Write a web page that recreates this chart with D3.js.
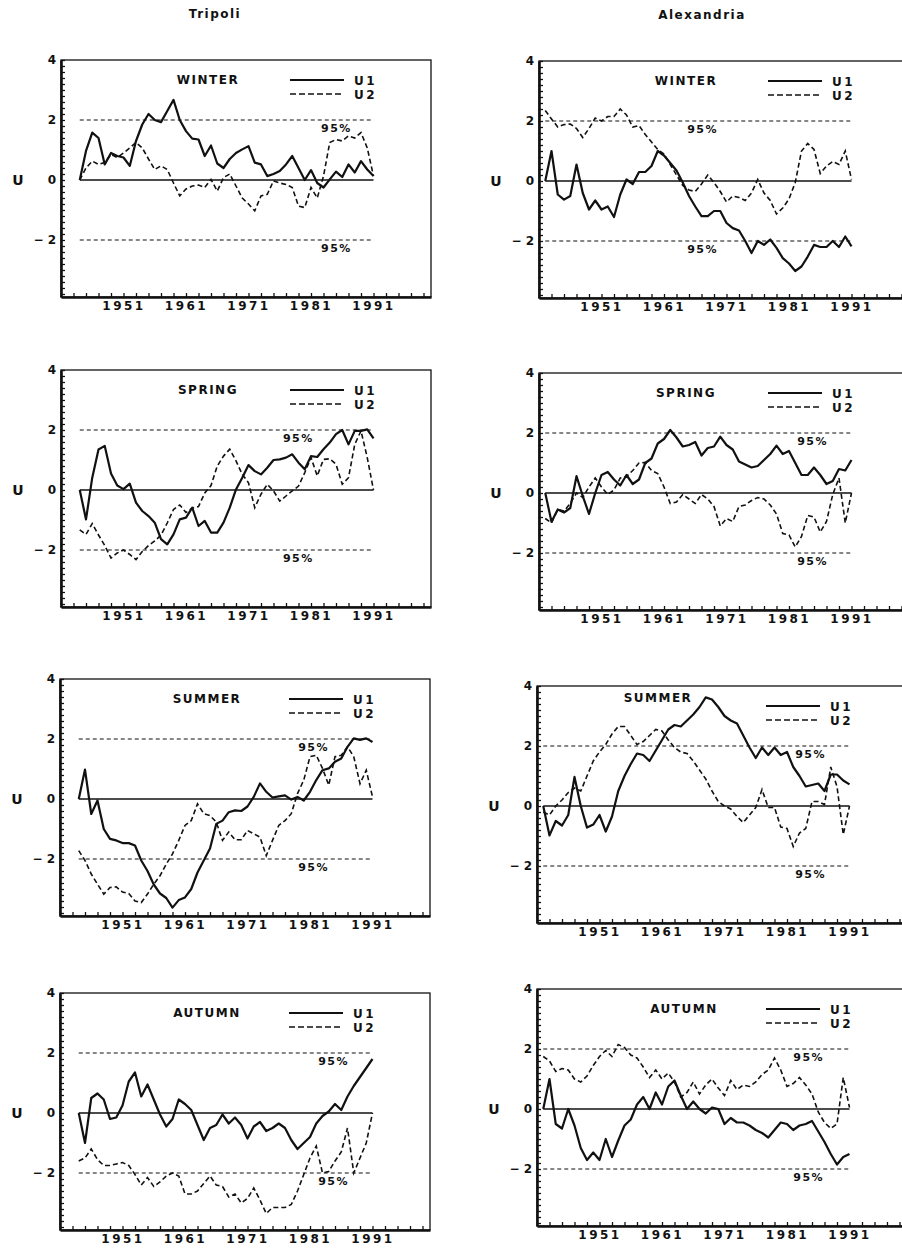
<!DOCTYPE html>
<html>
<head>
<meta charset="utf-8">
<script src="https://d3js.org/d3.v7.min.js"></script>
<style>
  body { margin: 0; background: #fff; }
  svg text { font-family: "DejaVu Sans", sans-serif; fill: #111; }
  .tick text { font-weight: bold; font-size: 12px; }
</style>
</head>
<body>
<svg id="chart" width="902" height="1250"></svg>
<script>
// ---- data ----
const tripoliStart = 1944;
const alexStart = 1942;
const lastYear = 1991;

const yearLabels = [1951, 1961, 1971, 1981, 1991];
const uLabels = [-2, 0, 2, 4];
const limits = [-2, 2];

const triWinterU1 = [0, 0.97, 1.58, 1.4, 0.52, 0.9, 0.8, 0.75, 0.47, 1.3, 1.85, 2.2, 2.0, 1.93, 2.3, 2.67, 2.0, 1.63, 1.38, 1.35, 0.8, 1.15, 0.55, 0.4, 0.7, 0.9, 1.02, 1.13, 0.58, 0.52, 0.13, 0.2, 0.3, 0.52, 0.8, 0.4, 0.0, 0.33, -0.1, -0.25, 0.02, 0.28, 0.1, 0.52, 0.25, 0.63, 0.35, 0.13];
const triWinterU2 = [0, 0.4, 0.63, 0.52, 0.58, 0.85, 0.75, 0.9, 1.07, 1.25, 1.07, 0.7, 0.35, 0.47, 0.35, -0.1, -0.53, -0.3, -0.2, -0.17, -0.25, 0.02, -0.37, 0.08, 0.2, -0.2, -0.6, -0.8, -1.03, -0.53, -0.48, -0.03, -0.1, -0.15, -0.25, -0.87, -0.92, -0.25, -0.6, 0.13, 1.25, 1.35, 1.3, 1.47, 1.4, 1.58, 1.07, 0.13];

const alexWinterU1 = [0, 1.0, -0.45, -0.62, -0.5, 0.55, -0.4, -0.95, -0.65, -0.95, -0.85, -1.2, -0.45, 0.05, -0.1, 0.3, 0.3, 0.5, 1.0, 0.85, 0.6, 0.35, -0.05, -0.5, -0.85, -1.17, -1.17, -1.0, -1.0, -1.4, -1.57, -1.65, -2.0, -2.4, -2.0, -2.13, -1.95, -2.23, -2.57, -2.75, -3.0, -2.85, -2.52, -2.13, -2.2, -2.2, -2.0, -2.2, -1.85, -2.18];
const alexWinterU2 = [2.35, 2.07, 1.8, 1.88, 1.9, 1.75, 1.45, 1.75, 2.1, 2.0, 2.15, 2.15, 2.4, 2.2, 1.8, 1.85, 1.55, 1.3, 1.05, 0.9, 0.55, 0.2, -0.15, -0.3, -0.35, -0.1, 0.2, -0.05, -0.35, -0.7, -0.5, -0.55, -0.65, -0.4, 0.05, -0.4, -0.65, -1.1, -0.9, -0.6, -0.05, 1.0, 1.25, 1.05, 0.25, 0.5, 0.65, 0.55, 1.0, 0.05];

const triSpringU1 = [0, -0.98, 0.41, 1.35, 1.47, 0.55, 0.15, 0.03, 0.21, -0.42, -0.7, -0.87, -1.09, -1.64, -1.81, -1.48, -0.98, -0.92, -0.59, -1.2, -1.03, -1.42, -1.42, -1.09, -0.59, 0.02, 0.41, 0.83, 0.63, 0.52, 0.74, 1.0, 1.02, 1.08, 1.19, 0.91, 0.69, 1.13, 1.1, 1.36, 1.58, 1.86, 2.0, 1.52, 1.97, 1.97, 2.02, 1.72];
const triSpringU2 = [-1.33, -1.48, -1.12, -1.5, -1.85, -2.27, -2.1, -2.0, -2.15, -2.32, -2.05, -1.85, -1.7, -1.5, -1.1, -0.65, -0.5, -0.75, -0.6, -0.55, -0.1, 0.15, 0.8, 1.13, 1.36, 0.97, 0.52, 0.24, -0.59, -0.14, 0.19, -0.03, -0.37, -0.2, -0.03, 0.13, 0.58, 1.08, 0.47, 1.02, 1.04, 0.86, 0.19, 0.41, 1.52, 1.97, 1.08, 0];

const alexSpringU1 = [0, -0.96, -0.55, -0.65, -0.5, 0.56, -0.1, -0.7, 0.0, 0.6, 0.7, 0.45, 0.25, 0.6, 0.3, 0.45, 1.0, 1.15, 1.65, 1.8, 2.1, 1.85, 1.55, 1.6, 1.7, 1.25, 1.5, 1.55, 1.88, 1.6, 1.45, 1.05, 0.95, 0.85, 0.9, 1.1, 1.3, 1.58, 1.3, 1.4, 1.0, 0.6, 0.6, 0.85, 0.6, 0.3, 0.4, 0.8, 0.75, 1.1];
const alexSpringU2 = [-0.85, -1.0, -0.55, -0.6, -0.35, 0.0, -0.15, 0.2, 0.5, 0.2, -0.05, 0.1, 0.5, 0.55, 0.75, 1.0, 1.02, 0.75, 0.65, 0.2, -0.35, -0.3, -0.05, -0.2, -0.35, -0.05, -0.2, -0.45, -1.1, -0.85, -0.95, -0.45, -0.4, -0.25, -0.15, -0.2, -0.4, -0.7, -1.35, -1.4, -1.8, -1.45, -0.75, -0.8, -1.3, -0.95, -0.05, 0.5, -1.0, 0.0];

const triSummerU1 = [0, 0.98, -0.5, -0.05, -1.0, -1.33, -1.38, -1.47, -1.47, -1.55, -2.05, -2.4, -2.85, -3.15, -3.3, -3.62, -3.37, -3.28, -3.0, -2.45, -2.05, -1.65, -0.83, -0.72, -0.44, -0.38, -0.4, -0.25, 0.07, 0.52, 0.24, 0.05, 0.09, 0.12, -0.02, 0.07, -0.05, 0.24, 0.63, 0.96, 1.02, 1.24, 1.35, 1.74, 2.02, 1.97, 2.02, 1.9];
const triSummerU2 = [-1.72, -2.05, -2.5, -2.84, -3.17, -2.95, -2.93, -3.1, -3.15, -3.4, -3.45, -3.17, -2.84, -2.56, -2.17, -1.83, -1.38, -0.88, -0.72, -0.16, -0.49, -0.55, -0.77, -1.38, -1.1, -1.36, -1.36, -1.05, -1.16, -1.27, -1.89, -1.38, -0.88, -0.72, -0.49, 0.18, 0.63, 1.41, 1.46, 1.02, 0.46, 1.41, 1.46, 1.74, 1.41, 0.51, 0.96, 0.07];

const alexSummerU1 = [0, -0.98, -0.5, -0.65, -0.3, 0.97, 0.0, -0.72, -0.62, -0.3, -0.85, -0.35, 0.5, 1.0, 1.4, 1.75, 1.7, 1.5, 1.85, 2.2, 2.55, 2.7, 2.65, 2.85, 3.05, 3.3, 3.62, 3.55, 3.3, 3.0, 2.85, 2.75, 2.35, 1.95, 1.6, 1.95, 1.7, 1.95, 1.7, 1.8, 1.3, 1.0, 0.65, 0.7, 0.75, 0.5, 1.05, 1.05, 0.85, 0.72];
const alexSummerU2 = [-0.2, -0.3, 0.0, 0.2, 0.45, 0.6, 0.5, 1.0, 1.5, 1.8, 2.05, 2.4, 2.65, 2.65, 2.35, 2.05, 2.15, 2.35, 2.55, 2.5, 2.2, 1.95, 1.8, 1.75, 1.5, 1.2, 0.9, 0.5, 0.15, 0.0, -0.1, -0.35, -0.55, -0.3, -0.05, 0.55, -0.05, -0.05, -0.7, -0.75, -1.35, -0.9, -0.75, 0.15, 0.15, 0.05, 1.3, 0.65, -0.95, 0.0];

const triAutumnU1 = [0, -1.0, 0.5, 0.65, 0.45, -0.2, -0.15, 0.25, 1.05, 1.35, 0.55, 0.95, 0.45, -0.05, -0.45, -0.2, 0.45, 0.3, 0.1, -0.4, -0.9, -0.5, -0.4, -0.05, -0.35, -0.15, -0.4, -0.85, -0.45, -0.3, -0.6, -0.5, -0.35, -0.5, -0.9, -1.2, -1.0, -0.8, -0.35, -0.1, 0.05, 0.3, 0.1, 0.55, 0.9, 1.2, 1.5, 1.8];
const triAutumnU2 = [-1.6, -1.5, -1.2, -1.55, -1.75, -1.75, -1.7, -1.65, -1.75, -2.05, -2.4, -2.15, -2.45, -2.3, -2.1, -2.0, -2.1, -2.7, -2.7, -2.6, -2.35, -2.1, -2.4, -2.45, -2.8, -2.7, -3.0, -2.85, -2.5, -2.9, -3.35, -3.15, -3.15, -3.15, -3.05, -2.6, -2.05, -1.5, -1.1, -2.0, -1.95, -1.6, -1.3, -0.5, -2.0, -1.5, -1.0, 0.0];

const alexAutumnU1 = [0, 1.0, -0.5, -0.65, 0.0, -0.55, -1.3, -1.7, -1.45, -1.7, -1.0, -1.6, -1.05, -0.55, -0.35, 0.15, 0.4, 0.0, 0.55, 0.15, 0.75, 0.95, 0.45, 0.0, 0.25, 0.0, -0.15, 0.05, 0.0, -0.5, -0.3, -0.45, -0.45, -0.55, -0.7, -0.8, -0.95, -0.7, -0.45, -0.5, -0.7, -0.55, -0.5, -0.4, -0.75, -1.1, -1.5, -1.85, -1.6, -1.5];
const alexAutumnU2 = [1.75, 1.6, 1.25, 1.35, 1.3, 1.0, 0.9, 1.1, 1.45, 1.75, 1.95, 1.75, 2.15, 2.05, 1.8, 1.7, 1.4, 1.05, 1.3, 1.0, 1.2, 0.9, 0.4, 0.55, 0.9, 0.5, 0.8, 1.0, 0.7, 0.45, 0.95, 0.65, 0.8, 0.75, 0.9, 1.15, 1.3, 1.7, 1.3, 0.75, 0.85, 1.05, 0.8, 0.5, -0.1, -0.45, -0.65, -0.5, 1.05, 0.05];

// ---- layout ----
const W = 370, H = 237;
const panels = [
  {season: "WINTER", u1: triWinterU1, u2: triWinterU2, start: tripoliStart, left: 61, top: 60, pct: 1982.6},
  {season: "WINTER", u1: alexWinterU1, u2: alexWinterU2, start: alexStart, left: 539, top: 61, pct: 1964.7},
  {season: "SPRING", u1: triSpringU1, u2: triSpringU2, start: tripoliStart, left: 61, top: 370, pct: 1976.5},
  {season: "SPRING", u1: alexSpringU1, u2: alexSpringU2, start: alexStart, left: 539, top: 373, pct: 1982.3},
  {season: "SUMMER", u1: triSummerU1, u2: triSummerU2, start: tripoliStart, left: 60, top: 679, pct: 1979.1},
  {season: "SUMMER", u1: alexSummerU1, u2: alexSummerU2, start: alexStart, left: 537, top: 686, pct: 1982.3, sx: 121, sy: 16},
  {season: "AUTUMN", u1: triAutumnU1, u2: triAutumnU2, start: tripoliStart, left: 60, top: 993, pct: 1982.3},
  {season: "AUTUMN", u1: alexAutumnU1, u2: alexAutumnU2, start: alexStart, left: 537, top: 989, pct: 1982}
];

const svg = d3.select("#chart");

svg.append("text").attr("x", 215).attr("y", 18).attr("text-anchor", "middle")
  .attr("font-size", 12).attr("font-weight", "bold").attr("letter-spacing", 1.5).text("Tripoli");
svg.append("text").attr("x", 702).attr("y", 19).attr("text-anchor", "middle")
  .attr("font-size", 12).attr("font-weight", "bold").attr("letter-spacing", 1.5).text("Alexandria");

panels.forEach(p => {
  const x = d3.scaleLinear().domain([1941, 2000.2]).range([p.left, p.left + W]);
  const y = d3.scaleLinear().domain([-3.9, 4]).range([p.top + H, p.top]);
  const g = svg.append("g");

  // thin top/right frame
  g.append("rect").attr("x", p.left).attr("y", p.top).attr("width", W).attr("height", H)
    .attr("fill", "none").attr("stroke", "#111").attr("stroke-width", 1.3);

  // minor ticks, pointing inward
  const yt = g.append("g").attr("transform", `translate(${p.left},0)`)
    .call(d3.axisRight(y).tickValues(d3.range(-19, 21).map(v => v / 5)).tickSize(4).tickSizeOuter(0).tickFormat(""));
  const xt = g.append("g").attr("transform", `translate(0,${p.top + H})`)
    .call(d3.axisTop(x).tickValues(d3.range(1943, 2000, 2)).tickSize(4).tickSizeOuter(0).tickFormat(""));
  [yt, xt].forEach(a => {
    a.select(".domain").attr("stroke", "#111").attr("stroke-width", 2.6);
    a.selectAll(".tick line").attr("stroke", "#111").attr("stroke-width", 1.3);
  });

  // labels
  const yl = g.append("g").attr("transform", `translate(${p.left},0)`)
    .call(d3.axisLeft(y).tickValues(uLabels).tickSize(0).tickPadding(5)
      .tickFormat(d => d < 0 ? "\u2212 " + (-d) : d));
  const xl = g.append("g").attr("transform", `translate(0,${p.top + H})`)
    .call(d3.axisBottom(x).tickValues(yearLabels).tickSize(0).tickPadding(4).tickFormat(d3.format("d")));
  [yl, xl].forEach(a => a.select(".domain").remove());
  yl.selectAll("text").attr("font-size", 13);
  xl.selectAll("text").attr("font-size", 13).attr("letter-spacing", 2.5);

  g.append("text").attr("x", p.left - 43).attr("y", y(0) + 5).attr("text-anchor", "middle")
    .attr("font-family", "DejaVu Serif").attr("font-weight", "bold").attr("font-size", 14).text("U");

  // reference lines
  g.append("line").attr("x1", x(p.start)).attr("x2", x(lastYear)).attr("y1", y(0)).attr("y2", y(0))
    .attr("stroke", "#111").attr("stroke-width", 1.4);
  limits.forEach(v => {
    g.append("line").attr("x1", x(p.start)).attr("x2", x(lastYear)).attr("y1", y(v)).attr("y2", y(v))
      .attr("stroke", "#111").attr("stroke-width", 1.2).attr("stroke-dasharray", "4,3");
    g.append("text").attr("x", x(p.pct)).attr("y", y(v) + 12).attr("font-size", 11)
      .attr("font-weight", "bold").attr("letter-spacing", 1.5).text("95%");
  });

  // series
  const line = d3.line().x((d, i) => x(p.start + i)).y(d => y(d));
  g.append("path").datum(p.u2).attr("d", line).attr("fill", "none")
    .attr("stroke", "#111").attr("stroke-width", 1.6).attr("stroke-dasharray", "5,3");
  g.append("path").datum(p.u1).attr("d", line).attr("fill", "none")
    .attr("stroke", "#111").attr("stroke-width", 2.2).attr("stroke-linejoin", "round");

  // season label and legend
  g.append("text").attr("x", p.left + (p.sx || 147)).attr("y", p.top + (p.sy || 24))
    .attr("text-anchor", "middle").attr("font-size", 12).attr("font-weight", "bold")
    .attr("letter-spacing", 1.5).text(p.season);
  [["U1", null, 20], ["U2", "6,3", 34]].forEach(([name, dash, dy]) => {
    g.append("line").attr("x1", p.left + 229).attr("x2", p.left + 283)
      .attr("y1", p.top + dy).attr("y2", p.top + dy).attr("stroke", "#111")
      .attr("stroke-width", dash ? 1.5 : 2).attr("stroke-dasharray", dash);
    g.append("text").attr("x", p.left + 293).attr("y", p.top + dy + 5).attr("font-size", 12)
      .attr("font-weight", "bold").attr("letter-spacing", 2.5).text(name);
  });
});
</script>
</body>
</html>
